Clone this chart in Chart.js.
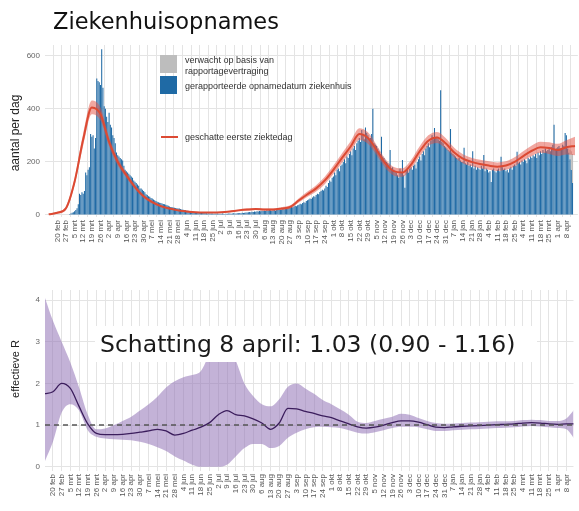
<!DOCTYPE html>
<html lang="nl">
<head>
<meta charset="utf-8">
<title>Ziekenhuisopnames</title>
<script src="https://cdn.jsdelivr.net/npm/chart.js@4.4.1/dist/chart.umd.min.js"></script>
<style>
  html, body { margin: 0; padding: 0; background: #fff; }
  .paneel { position: absolute; left: 0; width: 579px; }
  #boven { top: 0; height: 268px; }
  #onder { top: 268px; height: 243px; }
</style>
</head>
<body>
<div class="paneel" id="boven"><canvas id="opnamesGrafiek"></canvas></div>
<div class="paneel" id="onder"><canvas id="rGrafiek"></canvas></div>
<script>
'use strict';

Chart.defaults.font.family = "'Liberation Sans', Arial, sans-serif";
Chart.defaults.color = '#555';
Chart.defaults.animation = false;

var weekLabels = ['20 feb', '27 feb', '5 mrt', '12 mrt', '19 mrt', '26 mrt', '2 apr', '9 apr', '16 apr', '23 apr',
  '30 apr', '7 mei', '14 mei', '21 mei', '28 mei', '4 jun', '11 jun', '18 jun', '25 jun', '2 jul',
  '9 jul', '16 jul', '23 jul', '30 jul', '6 aug', '13 aug', '20 aug', '27 aug', '3 sep', '10 sep',
  '17 sep', '24 sep', '1 okt', '8 okt', '15 okt', '22 okt', '29 okt', '5 nov', '12 nov', '19 nov',
  '26 nov', '3 dec', '10 dec', '17 dec', '24 dec', '31 dec', '7 jan', '14 jan', '21 jan', '28 jan',
  '4 feb', '11 feb', '18 feb', '25 feb', '4 mrt', '11 mrt', '18 mrt', '25 mrt', '1 apr', '8 apr'];

// gerapporteerde opnames per dag vanaf 20 feb 2020, een regel per week
var opnames = [
  0, 0, 0, 0, 0, 0, 0,
  0, 0, 1, 3, 5, 8, 10,
  14, 18, 25, 40, 80, 75, 85,
  80, 90, 160, 150, 170, 180, 305,
  295, 300, 250, 290, 515, 505, 500,
  490, 625, 480, 410, 400, 370, 350,
  385, 340, 330, 300, 290, 270, 235,
  225, 220, 215, 210, 205, 185, 170,
  165, 160, 155, 150, 145, 140, 130,
  125, 120, 115, 110, 100, 100, 95,
  90, 85, 78, 75, 70, 68, 64,
  62, 58, 55, 52, 50, 48, 46,
  45, 43, 41, 40, 38, 36, 34,
  32, 30, 30, 28, 27, 26, 25,
  24, 24, 22, 20, 19, 18, 17,
  16, 16, 15, 14, 13, 12, 11,
  10, 10, 9, 9, 8, 8, 7,
  7, 6, 6, 5, 6, 5, 5,
  5, 4, 5, 4, 5, 4, 4,
  4, 5, 4, 3, 4, 4, 5,
  5, 4, 5, 6, 5, 5, 6,
  6, 7, 6, 8, 7, 8, 9,
  9, 10, 11, 10, 12, 11, 13,
  12, 14, 13, 15, 14, 16, 15,
  16, 15, 17, 16, 18, 17, 16,
  17, 18, 16, 19, 18, 20, 19,
  20, 22, 21, 24, 23, 25, 26,
  27, 30, 29, 32, 34, 33, 36,
  38, 42, 40, 45, 48, 46, 52,
  55, 58, 62, 60, 66, 70, 68,
  75, 80, 78, 86, 90, 95, 92,
  100, 110, 105, 120, 130, 125, 140,
  145, 160, 150, 170, 175, 165, 185,
  190, 200, 210, 195, 220, 215, 230,
  240, 225, 250, 260, 245, 270, 280,
  290, 275, 320, 300, 285, 330, 310,
  300, 285, 290, 305, 400, 270, 265,
  260, 250, 240, 230, 295, 220, 215,
  205, 200, 195, 190, 245, 175, 180,
  170, 165, 160, 150, 140, 175, 160,
  207, 150, 102, 165, 170, 160, 175,
  180, 170, 185, 190, 175, 200, 210,
  220, 205, 230, 240, 225, 250, 260,
  270, 255, 280, 300, 285, 328, 290,
  295, 285, 280, 470, 275, 270, 260,
  255, 250, 245, 240, 324, 235, 230,
  225, 220, 215, 210, 215, 205, 200,
  200, 253, 195, 190, 200, 185, 190,
  180, 240, 175, 185, 170, 180, 175,
  170, 185, 175, 226, 165, 175, 170,
  160, 165, 124, 170, 175, 165, 160,
  170, 175, 165, 219, 180, 170, 175,
  165, 170, 160, 175, 180, 170, 185,
  190, 185, 238, 195, 200, 190, 205,
  200, 210, 205, 195, 215, 210, 220,
  215, 225, 220, 230, 215, 235, 225,
  240, 230, 245, 235, 250, 240, 245,
  250, 240, 255, 265, 340, 245, 250,
  255, 260, 250, 245, 265, 260, 309,
  300, 250, 235, 210, 170, 120
];

// verwachte aanvulling door rapportagevertraging, laatste dagen
var verwacht = [0, 0, 15, 35, 70, 110];

// geschatte eerste ziektedag, weekwaarden vanaf 13 feb 2020
var ziekteDag = [2, 8, 25, 125, 285, 405, 380, 275, 200, 150,
  105, 70, 48, 33, 24, 17, 13, 10, 9, 9,
  10, 13, 17, 20, 22, 20, 20, 24, 30, 55,
  78, 100, 130, 170, 215, 258, 305, 290, 245, 195,
  165, 160, 190, 240, 280, 292, 270, 235, 212, 200,
  192, 186, 182, 186, 200, 222, 242, 255, 252, 245,
  255, 260];
var ziekteLaag = [0, 4, 18, 112, 262, 380, 356, 258, 186, 140,
  97, 64, 43, 29, 21, 14, 10, 8, 7, 7,
  8, 10, 14, 16, 18, 16, 16, 19, 24, 47,
  68, 88, 116, 154, 197, 238, 283, 268, 226, 178,
  149, 144, 173, 221, 260, 271, 250, 217, 195, 184,
  176, 170, 166, 170, 183, 204, 222, 234, 230, 222,
  228, 225];
var ziekteHoog = [4, 12, 32, 138, 308, 432, 405, 292, 214, 160,
  113, 76, 53, 37, 27, 20, 16, 12, 11, 11,
  12, 16, 20, 24, 26, 24, 24, 29, 36, 63,
  88, 112, 144, 186, 233, 278, 327, 312, 264, 212,
  181, 176, 207, 259, 300, 313, 290, 253, 229, 216,
  208, 202, 198, 202, 217, 240, 262, 276, 274, 268,
  282, 295];

// effectieve R, weekwaarden vanaf 13 feb 2020
var rSchatting = [1.75, 1.8, 2.0, 1.88, 1.45, 1.03, 0.8, 0.77, 0.77, 0.78,
  0.8, 0.83, 0.86, 0.9, 0.86, 0.76, 0.8, 0.88, 0.95, 1.06,
  1.25, 1.35, 1.25, 1.22, 1.15, 1.05, 0.9, 1.05, 1.4, 1.39,
  1.33, 1.28, 1.22, 1.18, 1.1, 1.03, 0.96, 0.93, 0.95, 1.0,
  1.06, 1.1, 1.1, 1.07, 1.01, 0.95, 0.94, 0.96, 0.97, 0.98,
  0.99, 1.0, 1.01, 1.02, 1.03, 1.05, 1.06, 1.05, 1.03, 1.02,
  1.03, 1.03];
var rLaag = [0.1, 0.6, 1.3, 1.5, 1.35, 0.88, 0.72, 0.68, 0.66, 0.65,
  0.64, 0.6, 0.55, 0.47, 0.38, 0.25, 0.15, 0.05, 0.0, 0.0,
  0.0, 0.05, 0.25, 0.45, 0.55, 0.55, 0.45, 0.5, 0.7, 0.82,
  0.9, 0.95, 0.96, 0.95, 0.93, 0.88, 0.82, 0.8, 0.83, 0.88,
  0.93, 0.96, 0.96, 0.95, 0.9, 0.86, 0.86, 0.88, 0.89, 0.9,
  0.91, 0.92, 0.93, 0.94, 0.95, 0.97, 0.98, 0.97, 0.95, 0.93,
  0.9, 0.65];
var rHoog = [4.1, 3.5, 3.0, 2.5, 1.9, 1.25, 0.9, 0.92, 1.0, 1.1,
  1.2, 1.35, 1.5, 1.68, 1.9, 2.05, 2.15, 2.2, 2.3, 2.7,
  3.0, 2.9, 2.55, 2.0, 1.7, 1.5, 1.45, 1.62, 1.92, 2.0,
  1.88, 1.75, 1.6, 1.5, 1.38, 1.25, 1.08, 1.05, 1.1, 1.15,
  1.2, 1.27, 1.25, 1.17, 1.1, 1.05, 1.03, 1.04, 1.05, 1.06,
  1.07, 1.08, 1.09, 1.09, 1.1, 1.12, 1.13, 1.12, 1.1, 1.1,
  1.16, 1.4];

var opnameTicks = [0, 200, 400, 600];
var rTicks = [0, 1, 2, 3, 4];
var rDrempel = 1;
var schattingTekst = 'Schatting 8 april: 1.03 (0.90 - 1.16)';

var kleurBlauw = '#1f6aa5';
var kleurGrijs = '#bdbdbd';
var kleurRood = '#dc4a33';

function perWeek(values) {
  return values.map(function(v, i) { return { x: (i - 1) * 7, y: v }; });
}

function perDag(values) {
  return values.map(function(v, i) { return { x: i, y: v }; });
}

var verwachtStart = opnames.length - verwacht.length;
var verwachtData = verwacht.map(function(v, i) {
  var d = verwachtStart + i;
  return { x: d, y: [opnames[d], opnames[d] + v] };
});

function xAs(hoogte) {
  return {
    type: 'linear',
    min: -6.4,
    max: 418.7,
    afterBuildTicks: function(scale) {
      scale.ticks = weekLabels.map(function(l, i) { return { value: i * 7 }; });
    },
    afterFit: function(scale) { scale.height = hoogte; },
    ticks: {
      autoSkip: false,
      minRotation: 90,
      maxRotation: 90,
      padding: 3,
      font: { size: 8 },
      color: '#555',
      callback: function(value, index) { return weekLabels[index]; }
    },
    grid: { color: '#e4e4e4', drawTicks: false },
    border: { display: false }
  };
}

function yAs(min, max, ticks) {
  return {
    min: min,
    max: max,
    afterBuildTicks: function(scale) {
      scale.ticks = ticks.map(function(v) { return { value: v }; });
    },
    afterFit: function(scale) { scale.width = 45; },
    ticks: { padding: 5, font: { size: 8 }, color: '#666' },
    grid: { color: '#e4e4e4', drawTicks: false },
    border: { display: false }
  };
}

var bovenTekst = {
  id: 'bovenTekst',
  afterDraw: function(chart) {
    var ctx = chart.ctx;
    ctx.save();
    ctx.fillStyle = '#111';
    ctx.font = '22.5px "DejaVu Sans"';
    ctx.textBaseline = 'alphabetic';
    ctx.fillText('Ziekenhuisopnames', 53, 29);

    // legenda
    ctx.fillStyle = kleurGrijs;
    ctx.fillRect(160, 55, 17, 18);
    ctx.fillStyle = kleurBlauw;
    ctx.fillRect(160, 76, 17, 18);
    ctx.strokeStyle = kleurRood;
    ctx.lineWidth = 2;
    ctx.beginPath();
    ctx.moveTo(161, 137);
    ctx.lineTo(178, 137);
    ctx.stroke();
    ctx.fillStyle = '#333';
    ctx.font = '9px "Liberation Sans"';
    ctx.fillText('verwacht op basis van', 185, 63);
    ctx.fillText('rapportagevertraging', 185, 74);
    ctx.fillText('gerapporteerde opnamedatum ziekenhuis', 185, 89);
    ctx.fillText('geschatte eerste ziektedag', 185, 140);

    // titel y-as
    ctx.translate(16, 133);
    ctx.rotate(-Math.PI / 2);
    ctx.textAlign = 'center';
    ctx.textBaseline = 'middle';
    ctx.font = '12px "Liberation Sans"';
    ctx.fillStyle = '#222';
    ctx.fillText('aantal per dag', 0, 0);
    ctx.restore();
  }
};

var onderTekst = {
  id: 'onderTekst',
  afterDatasetsDraw: function(chart) {
    var ctx = chart.ctx;
    var area = chart.chartArea;
    var y = chart.scales.y.getPixelForValue(rDrempel);
    ctx.save();
    ctx.strokeStyle = '#555';
    ctx.lineWidth = 1.5;
    ctx.setLineDash([5, 4]);
    ctx.beginPath();
    ctx.moveTo(area.left, y);
    ctx.lineTo(area.right, y);
    ctx.stroke();
    ctx.restore();
  },
  afterDraw: function(chart) {
    var ctx = chart.ctx;
    ctx.save();
    ctx.fillStyle = '#fff';
    ctx.fillRect(95, 58, 442, 36);
    ctx.fillStyle = '#1a1a1a';
    ctx.font = '23.5px "DejaVu Sans"';
    ctx.textBaseline = 'alphabetic';
    ctx.fillText(schattingTekst, 100, 84);

    ctx.translate(16, 101);
    ctx.rotate(-Math.PI / 2);
    ctx.textAlign = 'center';
    ctx.textBaseline = 'middle';
    ctx.font = '11px "Liberation Sans"';
    ctx.fillStyle = '#222';
    ctx.fillText('effectieve R', 0, 0);
    ctx.restore();
  }
};

new Chart(document.getElementById('opnamesGrafiek'), {
  type: 'bar',
  data: {
    datasets: [
      {
        type: 'line', data: perWeek(ziekteDag), borderColor: kleurRood, borderWidth: 2,
        pointRadius: 0, cubicInterpolationMode: 'monotone', fill: false
      },
      {
        type: 'line', data: perWeek(ziekteLaag), borderWidth: 0, borderColor: 'rgba(0,0,0,0)',
        pointRadius: 0, cubicInterpolationMode: 'monotone', fill: false
      },
      {
        type: 'line', data: perWeek(ziekteHoog), borderWidth: 0, borderColor: 'rgba(0,0,0,0)',
        pointRadius: 0, cubicInterpolationMode: 'monotone', fill: '-1',
        backgroundColor: 'rgba(228, 80, 65, 0.5)'
      },
      {
        type: 'bar', data: verwachtData, backgroundColor: kleurGrijs, grouped: false,
        barPercentage: 0.85, categoryPercentage: 1, borderWidth: 0
      },
      {
        type: 'bar', data: perDag(opnames), backgroundColor: kleurBlauw, grouped: false,
        barPercentage: 0.85, categoryPercentage: 1, borderWidth: 0
      }
    ]
  },
  options: {
    responsive: true,
    maintainAspectRatio: false,
    layout: { padding: { top: 45, right: 1, left: 0, bottom: 0 } },
    plugins: { legend: { display: false }, tooltip: { enabled: false } },
    scales: {
      x: xAs(51),
      y: yAs(-8, 641, opnameTicks)
    }
  },
  plugins: [bovenTekst]
});

new Chart(document.getElementById('rGrafiek'), {
  type: 'line',
  data: {
    datasets: [
      {
        data: perWeek(rSchatting), borderColor: '#3b1d5c', borderWidth: 1.3,
        pointRadius: 0, cubicInterpolationMode: 'monotone', fill: false
      },
      {
        data: perWeek(rLaag), borderWidth: 0, borderColor: 'rgba(0,0,0,0)',
        pointRadius: 0, cubicInterpolationMode: 'monotone', fill: false
      },
      {
        data: perWeek(rHoog), borderWidth: 0, borderColor: 'rgba(0,0,0,0)',
        pointRadius: 0, cubicInterpolationMode: 'monotone', fill: '-1',
        backgroundColor: 'rgba(150, 120, 185, 0.57)'
      }
    ]
  },
  options: {
    responsive: true,
    maintainAspectRatio: false,
    layout: { padding: { top: 22, right: 1, left: 0, bottom: 0 } },
    plugins: { legend: { display: false }, tooltip: { enabled: false } },
    scales: {
      x: xAs(40),
      y: yAs(-0.1, 4.24, rTicks)
    }
  },
  plugins: [onderTekst]
});
</script>
</body>
</html>
